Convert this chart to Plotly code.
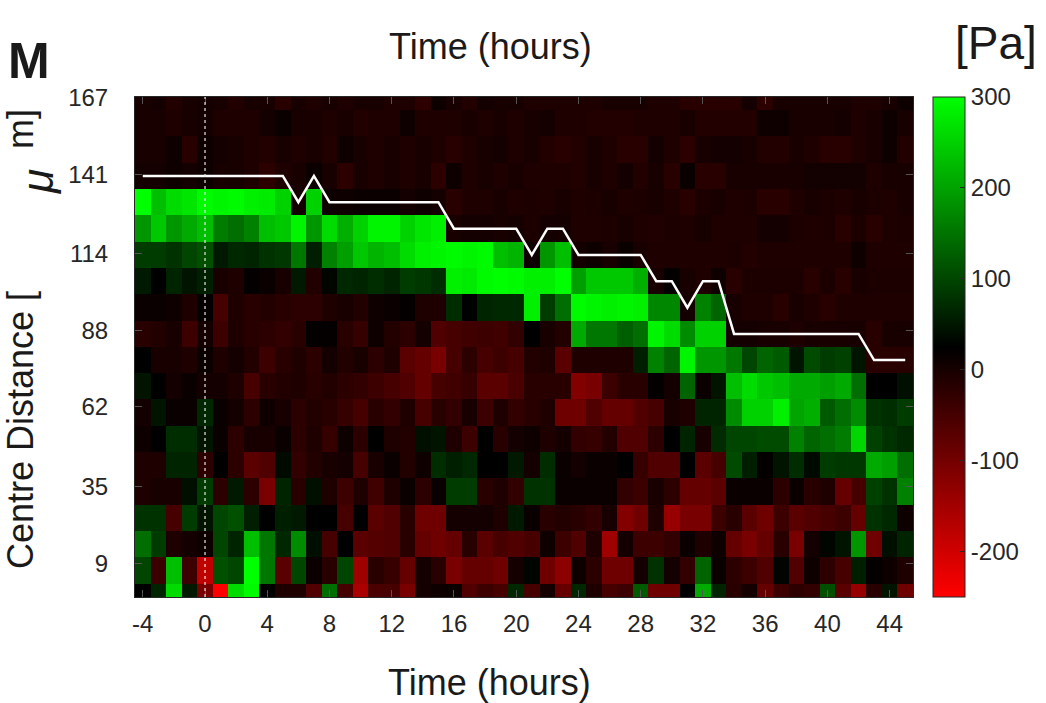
import plotly.graph_objects as go

# ---------------- data ----------------
hours = list(range(-4, 46))  # column centres (h)
distance_um = [-2.5, 6.4, 15.4, 24.3, 33.2, 42.2, 51.1, 60.0, 68.9, 77.9,
               86.8, 95.7, 104.7, 113.6, 122.5, 131.5, 140.4, 149.3, 158.3, 167.2]

# pressure [Pa]; rows from the bottom (distance_um[0]) to the top
pressure_pa = [
    [25, 63, 262, 52, -104, -250, 262, 295, 25, -7, -7, -61, 144, -50, -158, -56, -50, -104, 3, 9, 14, -61, -40, -50, 68,
     -50, 3, -83, 68, -7, -50, -40, 122, -94, -94, 25, 208, 63, -18, 3, -83, -40, -24, -29, 111, -72, -137, -18, 47, -94],
    [100, -40, 230, -40, -180, 111, 100, 300, 154, -72, 100, 14, -18, 100, -147, -18, -34, -83, 3, -18, -104, -83, -83, -94, 3,
     30, -94, -126, 9, -24, -94, -94, 3, 79, 3, -29, 133, 14, -24, -40, -61, 30, -61, 9, -24, -50, 57, 20, 9, -7],
    [144, 90, -7, 3, 9, 100, 63, 230, 154, 68, 176, 41, -50, 25, -72, -67, -61, -18, -83, -94, -83, -18, -72, -50, -61,
     -50, 9, -40, -61, -7, -147, 3, -40, -40, -29, 14, -7, 9, -83, -104, -83, -18, -104, 3, 30, 47, 187, -94, 41, 63],
    [79, 79, -50, 90, 47, 100, 111, 57, 25, 57, 52, 25, 25, -50, 25, -72, -61, -18, -94, -94, 3, 3, 3, -7, 52,
     14, -18, -13, -18, -29, -2, -115, -94, -7, -137, -104, -104, -40, -18, -72, -94, -40, -72, -61, -50, -40, -83, 79, 68, 9],
    [-7, -2, -2, 41, 90, -24, 52, -24, -104, 63, -18, 41, -7, -40, -7, -45, -7, 14, -24, 14, 90, 90, -18, -7, -29,
     79, 79, 14, 14, 14, 14, -29, -40, -2, -24, -83, -83, -72, 14, 14, 14, -24, 14, -18, -7, -83, -50, 95, 79, 165],
    [-7, -7, 63, 63, -24, 25, -24, -72, -61, 36, -29, -13, -2, 3, -50, -2, 14, -13, 9, 74, 57, 68, 25, 25, 52,
     3, 74, 14, 3, 14, 14, 25, -34, -61, -61, 25, -72, -50, 106, 57, 20, 47, 74, 36, 90, 84, 84, 208, 197, 144],
    [9, 25, 74, 74, 47, 14, -24, -2, -2, 14, -24, -7, -34, 9, -24, 25, -7, -13, 41, 47, -7, -40, 25, -18, 3,
     9, -7, 3, -29, -34, -13, -61, -61, -24, 25, 63, -2, 70, 100, 100, 106, 106, 165, 133, 144, 160, 257, 95, 79, 68],
    [3, 47, 14, 14, 68, 14, 3, -24, 9, -2, -24, -13, -18, -34, -50, -18, -29, -7, -50, -18, -29, -2, -40, -7, -29,
     -18, -7, -94, -94, -61, -83, -83, -61, -50, -2, -7, 63, 63, 176, 251, 251, 284, 203, 214, 122, 144, 176, 79, 74, 90],
    [47, 25, 3, 14, 3, 3, -7, -50, -18, -13, -7, -18, -13, -24, -29, -40, -50, -61, -83, -50, -45, -34, -72, -72, -56,
     -18, -18, -18, -115, -104, -40, -18, -18, 20, 3, 133, 14, 47, 230, 262, 241, 230, 208, 208, 197, 208, 144, 25, 25, 41],
    [25, -2, -2, -7, 14, -7, 3, -13, -40, -18, -7, -24, 3, -13, -2, -24, -7, -72, -83, -104, -50, -24, -50, -40, -50,
     -13, -7, -72, -7, -7, -7, -7, 57, 165, 133, 289, 187, 187, 154, 100, 133, 122, 47, 106, 90, 95, 47, -18, -18, -18],
    [-18, -13, -2, -40, 3, -40, -7, -18, -24, -29, -18, 20, 20, -18, -34, 9, -13, -24, 3, -61, -50, -45, -40, -45, -29,
     25, -2, -13, 208, 154, 154, 127, 144, 289, 262, 176, 251, 251, 3, 3, -2, -2, -7, -2, -2, -2, -2, -18, -2, -2],
    [14, 14, 9, -7, 20, -50, -7, -18, -13, -18, -24, -24, -7, -2, -13, 9, 14, 20, -7, -7, 74, 25, 63, 68, 68,
     284, 90, 144, 295, 289, 284, 289, 284, 171, 171, 3, 165, 133, -2, -7, -7, -18, -2, -7, -18, -7, -7, -7, -7, -7],
    [52, 25, 63, 47, 57, -2, -7, 20, 14, -2, 52, -13, 30, 68, 63, 74, 63, 90, 84, 74, 284, 278, 295, 300, 295,
     284, 284, 300, 197, 241, 241, 241, 214, -2, 20, -2, -7, 9, -18, -5, -5, -5, -5, -18, -5, -18, -2, -5, -5, -5],
    [90, 90, 79, 100, 111, 52, 68, 63, 79, 84, 154, 57, 165, 197, 241, 219, 230, 262, 284, 289, 295, 289, 295, 230, 219,
     10, 187, 230, 3, 9, -2, 14, -2, -7, -7, -7, -7, -7, -5, -13, -7, -7, -7, -7, -7, -7, 9, -7, -7, -7],
    [187, 241, 187, 208, 230, 160, 144, 165, 230, 241, 289, 187, 262, 214, 251, 289, 289, 251, 273, 284, -2, 3, 3, -2, 3,
     -5, 3, 3, -7, -7, -5, -2, -7, -10, -5, -7, -2, -7, -7, -7, 3, 3, -5, -7, -5, -18, -5, -18, -7, -5],
    [300, 230, 262, 273, 295, 289, 295, 284, 278, 251, 3, 251, 9, 9, 14, 14, 14, 3, 9, 3, -18, -7, -7, -2, -7,
     -5, -7, -2, -7, -5, -2, -7, -5, -2, -7, -18, -5, -2, -7, -5, -18, -18, -7, -2, -5, -7, -2, -5, -7, -2],
    [3, 3, 9, 3, 9, -2, -2, -7, -24, -7, -2, 14, -2, -24, -2, -7, -2, -7, -2, -24, 9, -7, -2, -7, -2,
     -7, -7, -7, -13, -2, -7, 3, -13, -2, -18, 14, -18, -18, -2, -2, -2, -2, -2, 5, 5, 5, 5, -7, -2, -2],
    [-2, -2, 9, -18, 9, 3, -2, -7, -13, -2, -7, -2, -13, 9, -2, -7, -2, -7, -2, -7, -18, -7, -2, 3, -7,
     -2, -13, -18, -13, -2, -7, -18, -18, 3, -7, -24, -2, 3, 3, -2, -13, -13, -2, -7, -18, -18, -7, -2, 9, -13],
    [-2, -2, -7, -2, 3, -7, -7, -7, 3, 14, -2, -2, -7, -2, -13, -7, -7, 9, -7, -7, -7, -2, -7, -2, -7,
     -2, 3, -7, -7, -13, -13, -13, -7, -7, -7, -2, -13, -13, -13, -13, 9, 9, -2, -2, -2, 3, -7, -2, 9, -2],
    [-2, 3, -13, -2, 3, -2, -13, -2, -2, -18, -2, -7, -2, -7, -2, -2, -7, -7, -24, 9, -2, -13, 3, -2, -2,
     -7, -7, -7, -7, -7, -2, -2, -2, -7, -7, -18, -18, -18, -18, 3, -24, -2, -2, -2, -2, -2, -7, -7, -2, 9],
]

# white boundary line (centre distance, um) for each hour
boundary_um = ([140.4] * 10 + [131.5, 140.4] + [131.5] * 8 + [122.5] * 5 + [113.6, 122.5, 122.5]
               + [113.6] * 5 + [104.7, 104.7, 95.7, 104.7, 104.7] + [86.8] * 9 + [77.9] * 3)

x_ticks = [-4, 0, 4, 8, 12, 16, 20, 24, 28, 32, 36, 40, 44]
x_tick_text = ["-4", "0", "4", "8", "12", "16", "20", "24", "28", "32", "36", "40", "44"]
y_ticks = [9, 35, 62, 88, 114, 141, 167]
y_tick_text = ["9", "35", "62", "88", "114", "141", "167"]
cbar_ticks = [-200, -100, 0, 100, 200, 300]
cbar_tick_text = ["-200", "-100", "0", "100", "200", "300"]

# ---------------- figure ----------------
W, H = 1046, 703
L, R, T, B = 135, 133, 97, 106
PW, PH = W - L - R, H - T - B
FONT = "Liberation Sans, Arial, sans-serif"
AX = "#262626"


def px_x(p):
    return (p - L) / PW


def px_y(p):
    return (H - B - p) / PH


fig = go.Figure()
fig.add_trace(go.Heatmap(
    x=hours, y=distance_um, z=pressure_pa,
    zmin=-250, zmax=300, zsmooth=False,
    colorscale=[[0, "rgb(255,0,0)"], [0.5, "rgb(0,0,0)"], [1, "rgb(0,255,0)"]],
    hoverinfo="skip",
    colorbar=dict(
        x=px_x(933), xanchor="left", xpad=0,
        y=0.5, yanchor="middle", ypad=0,
        len=1.0, lenmode="fraction",
        thickness=32, thicknessmode="pixels",
        outlinewidth=1, outlinecolor=AX,
        tickvals=cbar_ticks, ticktext=cbar_tick_text,
        ticks="inside", ticklen=5, tickcolor=AX,
        tickfont=dict(family=FONT, size=24, color=AX),
    ),
))
fig.add_trace(go.Scatter(
    x=hours, y=boundary_um, mode="lines",
    line=dict(color="white", width=2.5), showlegend=False, hoverinfo="skip",
))
fig.add_shape(type="line", x0=0, x1=0, y0=0, y1=1, xref="x", yref="paper",
              line=dict(color="rgba(235,235,235,0.9)", width=1.3, dash="dot"))

axis_common = dict(
    showline=True, linecolor=AX, linewidth=1, mirror="ticks",
    ticks="inside", ticklen=7, tickwidth=1, tickcolor="#555555",
    showgrid=False, zeroline=False,
    tickfont=dict(family=FONT, size=24, color=AX),
)
fig.update_xaxes(range=[-4.5, 45.5], tickvals=x_ticks, ticktext=x_tick_text,
                 ticklabelstandoff=5, **axis_common)
fig.update_yaxes(range=[distance_um[0], distance_um[-1]], tickvals=y_ticks, ticktext=y_tick_text,
                 ticklabelstandoff=21, **axis_common)

ann = [
    dict(text="Time (hours)", x=px_x(489), y=px_y(682), size=36),
    dict(text="Time (hours)", x=px_x(490), y=px_y(47), size=36),
    dict(text="[Pa]", x=px_x(996), y=px_y(43), size=46),
    dict(text="<b>M</b>", x=px_x(29), y=px_y(61), size=50),
    dict(text="Centre Distance [", x=px_x(21), y=px_y(430), size=36, angle=-90),
    dict(text="<i>μ</i>", x=px_x(37), y=px_y(182), size=44, angle=-90),
    dict(text="m]", x=px_x(21), y=px_y(129), size=36, angle=-90),
]
for a in ann:
    fig.add_annotation(
        text=a["text"], x=a["x"], y=a["y"], xref="paper", yref="paper",
        xanchor="center", yanchor="middle", showarrow=False,
        textangle=a.get("angle", 0),
        font=dict(family=FONT, size=a["size"], color="#1a1a1a"),
    )

fig.update_layout(
    width=W, height=H,
    margin=dict(l=L, r=R, t=T, b=B, pad=0),
    paper_bgcolor="white", plot_bgcolor="black",
    showlegend=False,
)

fig.write_html("out.html")
